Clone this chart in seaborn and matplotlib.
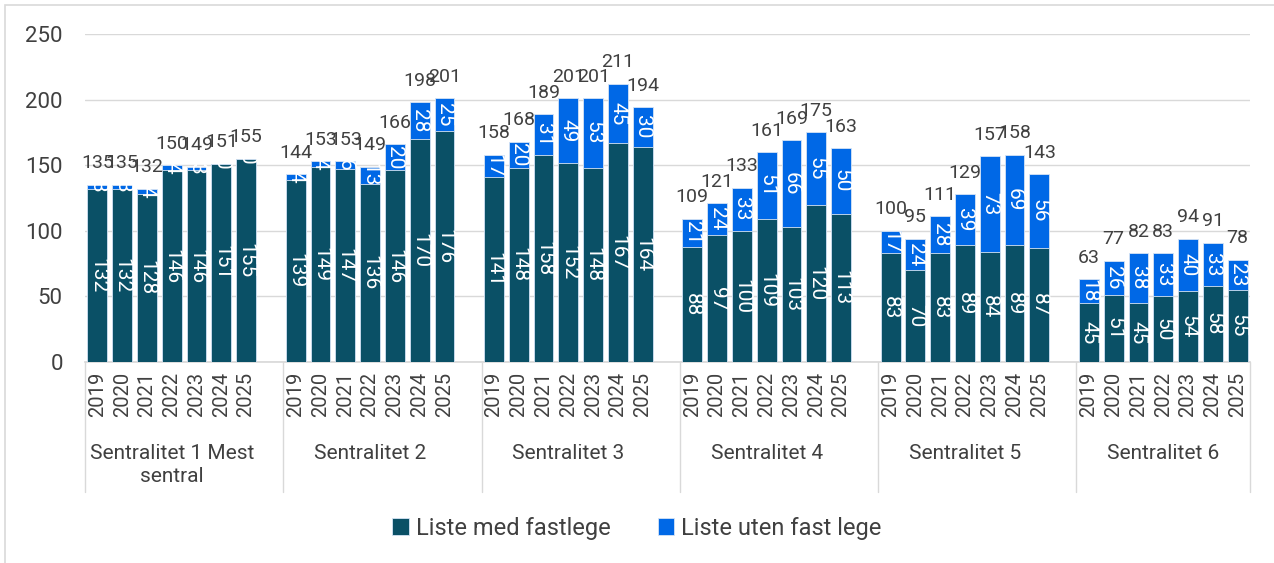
import numpy as np
import pandas as pd
import matplotlib.pyplot as plt
import matplotlib.transforms as mtransforms
from matplotlib.patches import Rectangle
import seaborn as sns

# Data
groups = ["Sentralitet 1 Mest\nsentral", "Sentralitet 2", "Sentralitet 3",
          "Sentralitet 4", "Sentralitet 5", "Sentralitet 6"]
years = ["2019", "2020", "2021", "2022", "2023", "2024", "2025"]

med_fastlege = [
    132, 132, 128, 146, 146, 151, 155,
    139, 149, 147, 136, 146, 170, 176,
    141, 148, 158, 152, 148, 167, 164,
    88, 97, 100, 109, 103, 120, 113,
    83, 70, 83, 89, 84, 89, 87,
    45, 51, 45, 50, 54, 58, 55,
]
uten_fastlege = [
    3, 3, 4, 4, 3, 0, 0,
    4, 4, 6, 13, 20, 28, 25,
    17, 20, 31, 49, 53, 45, 30,
    21, 24, 33, 51, 66, 55, 50,
    17, 24, 28, 39, 73, 69, 56,
    18, 26, 38, 33, 40, 33, 23,
]
totals = [
    135, 135, 132, 150, 149, 151, 155,
    144, 153, 153, 149, 166, 198, 201,
    158, 168, 189, 201, 201, 211, 194,
    109, 121, 133, 161, 169, 175, 163,
    100, 95, 111, 129, 157, 158, 143,
    63, 77, 82, 83, 94, 91, 78,
]

DARK = "#0A5066"
BLUE = "#0068E6"
GRID = "#D9D9D9"
TXT = "#404040"

sns.set_theme(style="white")
plt.rcParams['font.family'] = ['Roboto', 'DejaVu Sans']

# one empty slot between the groups
n_years = len(years)
pos = [g * (n_years + 1) + i for g in range(len(groups)) for i in range(n_years)]
df = pd.DataFrame({
    "pos": pos,
    "year": years * len(groups),
    "med": med_fastlege,
    "uten": uten_fastlege,
    "total": totals,
})
df["stack"] = df["med"] + df["uten"]

fig = plt.figure(figsize=(12.74, 5.63), dpi=100)
ax = fig.add_axes([85 / 1274, 1 - 362 / 563, (1250 - 85) / 1274, (362 - 34) / 563])

sns.barplot(data=df, x="pos", y="stack", native_scale=True, color=BLUE,
            width=0.8, edgecolor="#D6E4F5", linewidth=0.6, saturation=1,
            ax=ax, label="Liste uten fast lege", zorder=2)
sns.barplot(data=df, x="pos", y="med", native_scale=True, color=DARK,
            width=0.8, edgecolor="#D6E4F5", linewidth=0.6, saturation=1,
            ax=ax, label="Liste med fastlege", zorder=3)

ax.set_ylim(0, 250)
ax.set_xlim(-0.5, df["pos"].max() + 0.5)
ax.set_yticks(range(0, 251, 50))
ax.yaxis.grid(True, color=GRID, lw=1)
ax.set_axisbelow(True)
for s in ["left", "right", "top"]:
    ax.spines[s].set_visible(False)
ax.spines["bottom"].set_color(GRID)
ax.tick_params(axis="y", length=0, pad=16, labelsize=16, labelcolor=TXT)
ax.set_xticks(df["pos"])
ax.set_xticklabels(df["year"], rotation=90, fontsize=14.5, color=TXT)
ax.tick_params(axis="x", length=0, pad=7)
ax.set_xlabel("")
ax.set_ylabel("")

# value labels inside the bars, totals above
for _, r in df.iterrows():
    ax.text(r["pos"], r["med"] / 2, str(r["med"]), rotation=270, ha="center",
            va="center", color="white", fontsize=15, zorder=5)
    ax.text(r["pos"], r["med"] + r["uten"] / 2, str(r["uten"]), rotation=270,
            ha="center", va="center", color="white", fontsize=15, zorder=5)
    ax.annotate(str(r["total"]), (r["pos"], r["stack"]), xytext=(0, 9),
                textcoords="offset points", ha="center", va="bottom",
                color=TXT, fontsize=14, zorder=5)

# group separators and group labels under the axis
trans = mtransforms.blended_transform_factory(ax.transData, ax.transAxes)
bounds = [-0.5] + [g * (n_years + 1) + n_years + 0.5 for g in range(len(groups) - 1)] + [df["pos"].max() + 0.5]
for b in bounds:
    ax.plot([b, b], [0, -0.396], transform=trans, color=GRID, lw=1, clip_on=False)
for g, name in enumerate(groups):
    center = g * (n_years + 1) + (n_years - 1) / 2
    ax.text(center, -0.25, name, transform=trans, ha="center", va="top",
            fontsize=15, color=TXT, linespacing=1.3)

handles, labels = ax.get_legend_handles_labels()
order = [labels.index("Liste med fastlege"), labels.index("Liste uten fast lege")]
fig.legend([handles[i] for i in order], [labels[i] for i in order],
           loc="center", bbox_to_anchor=(0.5, 1 - 528 / 563), ncol=2,
           frameon=False, fontsize=17, handlelength=0.7, handleheight=0.7,
           handletextpad=0.3, columnspacing=2.0, labelcolor=TXT)
if ax.get_legend() is not None:
    ax.get_legend().remove()

fig.patches.append(Rectangle((5 / 1274, -0.02), 1.1, 1 - 5 / 563 + 0.02,
                             transform=fig.transFigure, fill=False,
                             edgecolor=GRID, lw=1.2))

fig.savefig("out.png", dpi=100)
